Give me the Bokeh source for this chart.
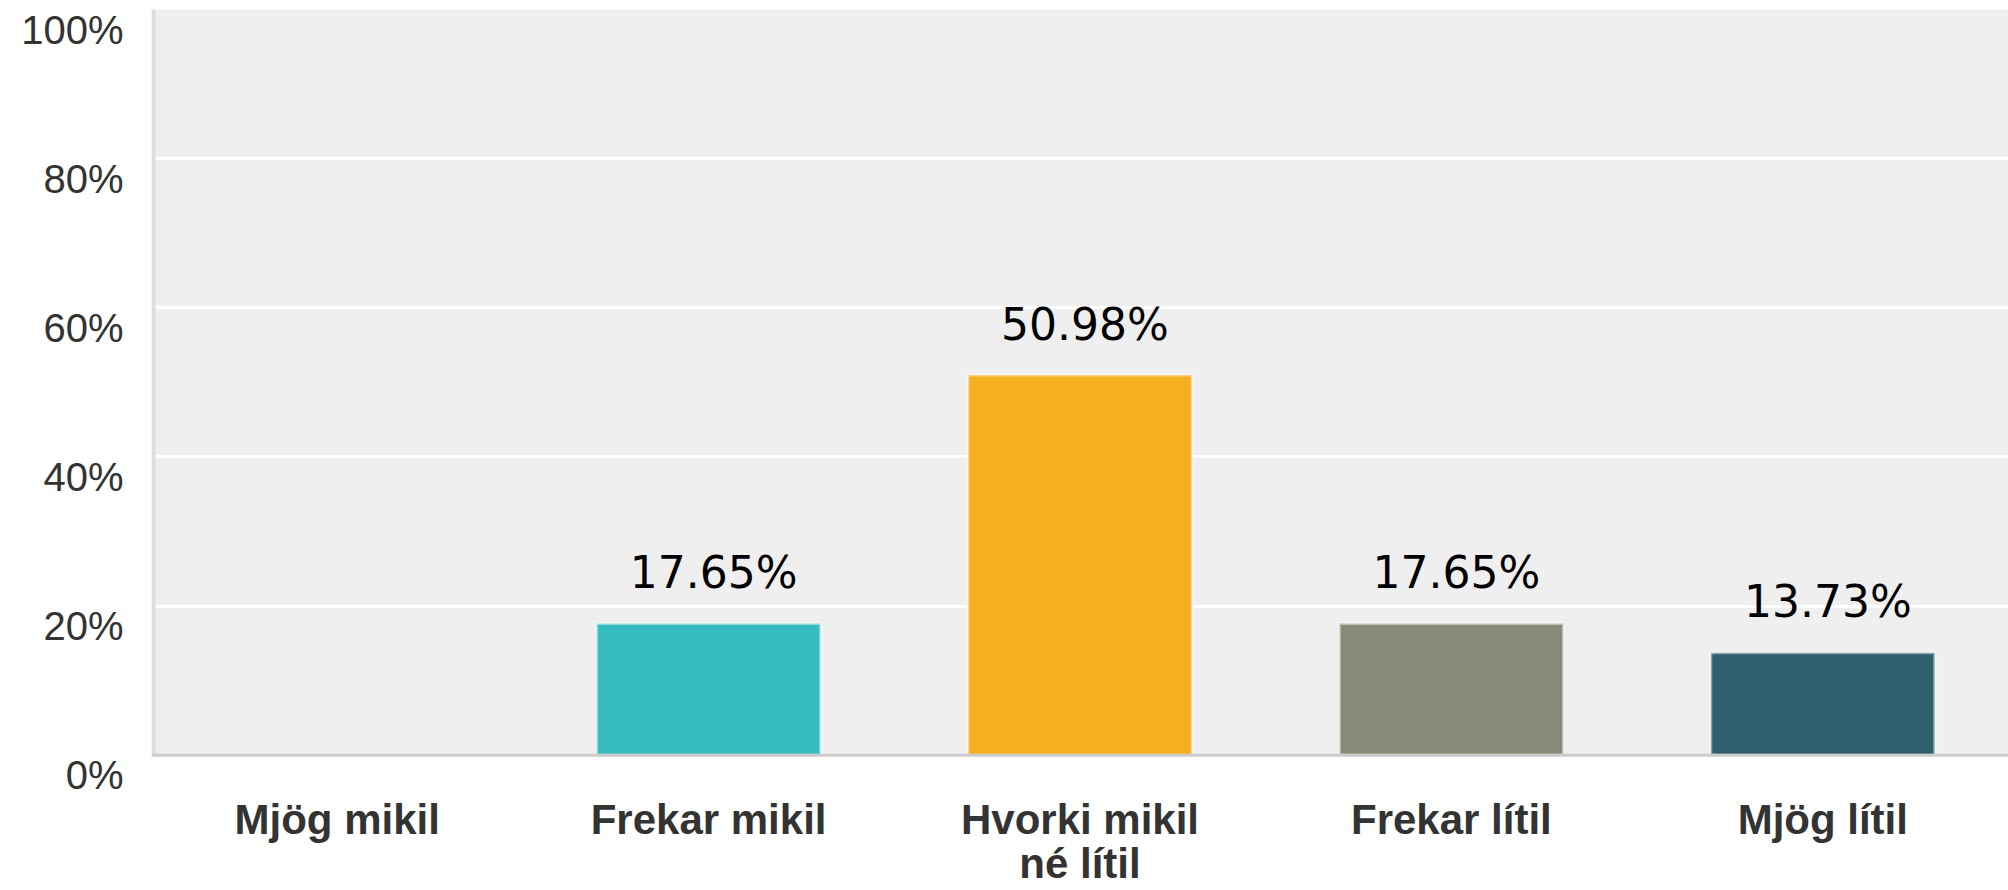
from bokeh.plotting import figure
from bokeh.models import (ColumnDataSource, FactorRange, Range1d, FixedTicker,
                          BoxAnnotation, Span, CustomJSTickFormatter)
from bokeh.core.properties import value
from bokeh.embed import file_html
from bokeh.resources import INLINE

# ---- data ----
categories = ["Mjög mikil", "Frekar mikil", "Hvorki mikil\nné lítil", "Frekar lítil", "Mjög lítil"]
values = [0.0, 17.65, 50.98, 17.65, 13.73]
colors = ["#35BCBF", "#35BCBF", "#F6AF1F", "#8A8A79", "#2F5F6D"]
y_ticks = [0, 20, 40, 60, 80, 100]
y_tick_labels = ["0%", "20%", "40%", "60%", "80%", "100%"]

# ---- layout constants (pixels) ----
FRAME_W, FRAME_H = 1857, 768
Y_START, Y_END = -3.0, 100.0
px_per_unit = FRAME_H / (Y_END - Y_START)
label_shift = 20.0 / px_per_unit          # tick labels sit ~20px below gridlines
border_w = 4.0 / (FRAME_W / len(categories))

src = ColumnDataSource(dict(cat=categories, val=values, color=colors))
lab = ColumnDataSource(dict(
    cat=[c for c, v in zip(categories, values) if v > 0],
    val=[v for v in values if v > 0],
    txt=[f"{v:.2f}%" for v in values if v > 0],
))

p = figure(width=2008, height=890, frame_width=FRAME_W, frame_height=FRAME_H,
           x_range=FactorRange(factors=categories),
           y_range=Range1d(Y_START, Y_END), output_backend="svg", toolbar_location=None,
           min_border_left=151, min_border_right=0, min_border_top=9,
           min_border_bottom=890 - 9 - FRAME_H)

p.background_fill_color = "white"
p.border_fill_color = "white"
p.outline_line_color = None

# plot area (0..100%) and its borders
p.add_layout(BoxAnnotation(bottom=0, top=100, fill_color="#efefef", fill_alpha=1,
                           line_color=None, level="image"))
p.add_layout(BoxAnnotation(bottom=0, top=100, left=0, right=border_w,
                           fill_color="#dddddd", fill_alpha=1, line_color=None,
                           level="underlay"))

p.vbar(x="cat", top="val", width=0.603, source=src, fill_color="color",
       line_color="white", line_alpha=0.45, line_width=3)

p.add_layout(Span(location=0, dimension="width", line_color="#cccccc", line_width=3))

p.text(x="cat", y="val", text="txt", source=lab, x_offset=5, y_offset=-51,
       text_align="center", text_baseline="alphabetic",
       text_font=value("DejaVu Sans"), text_font_size="44px", text_color="black")

# y axis
p.yaxis.ticker = FixedTicker(ticks=[t - label_shift for t in y_ticks])
p.yaxis.formatter = CustomJSTickFormatter(args=dict(shift=label_shift),
                                          code="return Math.round(tick + shift) + '%'")
p.yaxis.axis_line_color = None
p.yaxis.major_tick_line_color = None
p.yaxis.minor_tick_line_color = None
p.yaxis.major_tick_out = 0
p.yaxis.major_label_standoff = 28
p.yaxis.major_label_text_font = "Liberation Sans"
p.yaxis.major_label_text_font_size = "40px"
p.yaxis.major_label_text_color = "#333333"

p.ygrid.ticker = FixedTicker(ticks=y_ticks)
p.ygrid.grid_line_color = "white"
p.ygrid.grid_line_width = 3
p.xgrid.grid_line_color = None

# x axis
p.xaxis.axis_line_color = None
p.xaxis.major_tick_line_color = None
p.xaxis.minor_tick_line_color = None
p.xaxis.major_tick_out = 0
p.xaxis.major_label_standoff = 18
p.xaxis.major_label_text_font = "Liberation Sans"
p.xaxis.major_label_text_font_style = "bold"
p.xaxis.major_label_text_font_size = "42px"
p.xaxis.major_label_text_color = "#333333"
p.xaxis.major_label_text_line_height = 0.95

open("out.html", "w").write(file_html(p, INLINE))
